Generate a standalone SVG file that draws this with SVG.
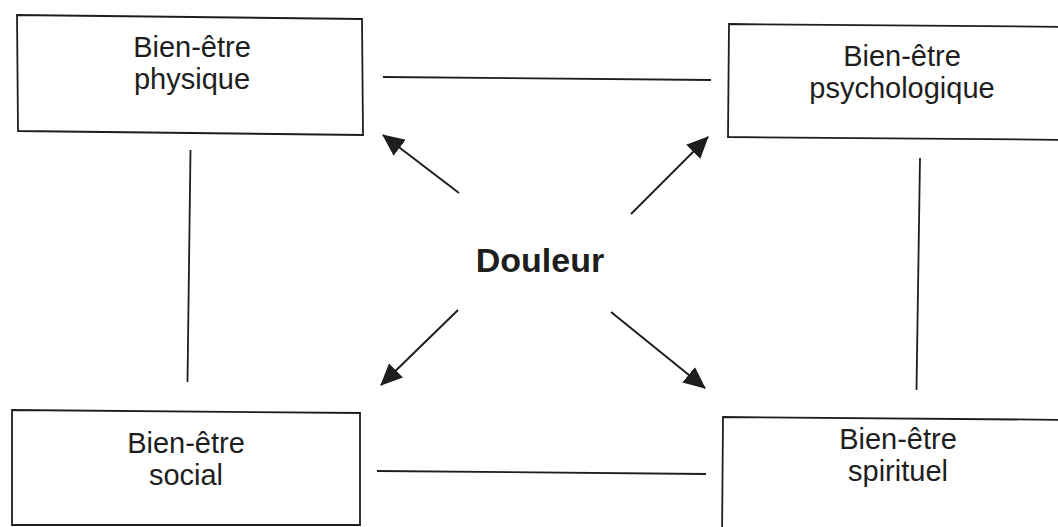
<svg xmlns="http://www.w3.org/2000/svg" width="1058" height="527" viewBox="0 0 1058 527">
  <defs>
    <style>
      .box { fill: #ffffff; stroke: #1e1e1e; stroke-width: 1.8; }
      .lbl { font-family: "Liberation Sans", Arial, sans-serif; font-size: 29px; fill: #1e1e1e; text-anchor: middle; }
      .main { font-family: "Liberation Sans", Arial, sans-serif; font-size: 34px; font-weight: bold; fill: #1e1e1e; text-anchor: middle; }
      .link { stroke: #1e1e1e; stroke-width: 1.8; fill: none; }
      .arrow { stroke: #1e1e1e; stroke-width: 2; fill: none; marker-end: url(#head); }
    </style>
    <marker id="head" viewBox="0 0 22 20" refX="21" refY="10" markerWidth="22" markerHeight="20" markerUnits="userSpaceOnUse" orient="auto">
      <path d="M0,0 L22,10 L0,20 Z" fill="#1e1e1e"/>
    </marker>
  </defs>

  <rect width="1058" height="527" fill="#ffffff"/>

  <!-- connectors between the four boxes and arrows from the centre -->
  <g id="connectors">
    <line class="link" x1="383" y1="77" x2="711" y2="80"/>
    <line class="link" x1="190.5" y1="150" x2="187.5" y2="382"/>
    <line class="link" x1="920" y1="158" x2="916.5" y2="390"/>
    <line class="link" x1="377" y1="471" x2="706" y2="474"/>
    <line class="arrow" x1="459" y1="193" x2="383" y2="135"/>
    <line class="arrow" x1="631" y1="214" x2="708" y2="137"/>
    <line class="arrow" x1="458" y1="310" x2="381" y2="385"/>
    <line class="arrow" x1="611" y1="312" x2="705" y2="388"/>
  </g>

  <g id="physique">
    <polygon class="box" points="17,15 362,19 363,135 18,131"/>
    <text class="lbl" x="192" y="57">Bien-être</text>
    <text class="lbl" x="192" y="89">physique</text>
  </g>

  <g id="psychologique">
    <polygon class="box" points="729,24 1080,27 1080,140 728,137"/>
    <text class="lbl" x="902" y="66">Bien-être</text>
    <text class="lbl" x="902" y="98">psychologique</text>
  </g>

  <g id="social">
    <polygon class="box" points="12,410 360,413 360,525 12,525"/>
    <text class="lbl" x="186" y="453">Bien-être</text>
    <text class="lbl" x="186" y="485">social</text>
  </g>

  <g id="spirituel">
    <polygon class="box" points="723,417 1080,420 1080,540 722,540"/>
    <text class="lbl" x="898" y="449">Bien-être</text>
    <text class="lbl" x="898" y="481">spirituel</text>
  </g>

  <g id="douleur">
    <text class="main" x="540" y="272">Douleur</text>
  </g>
</svg>
